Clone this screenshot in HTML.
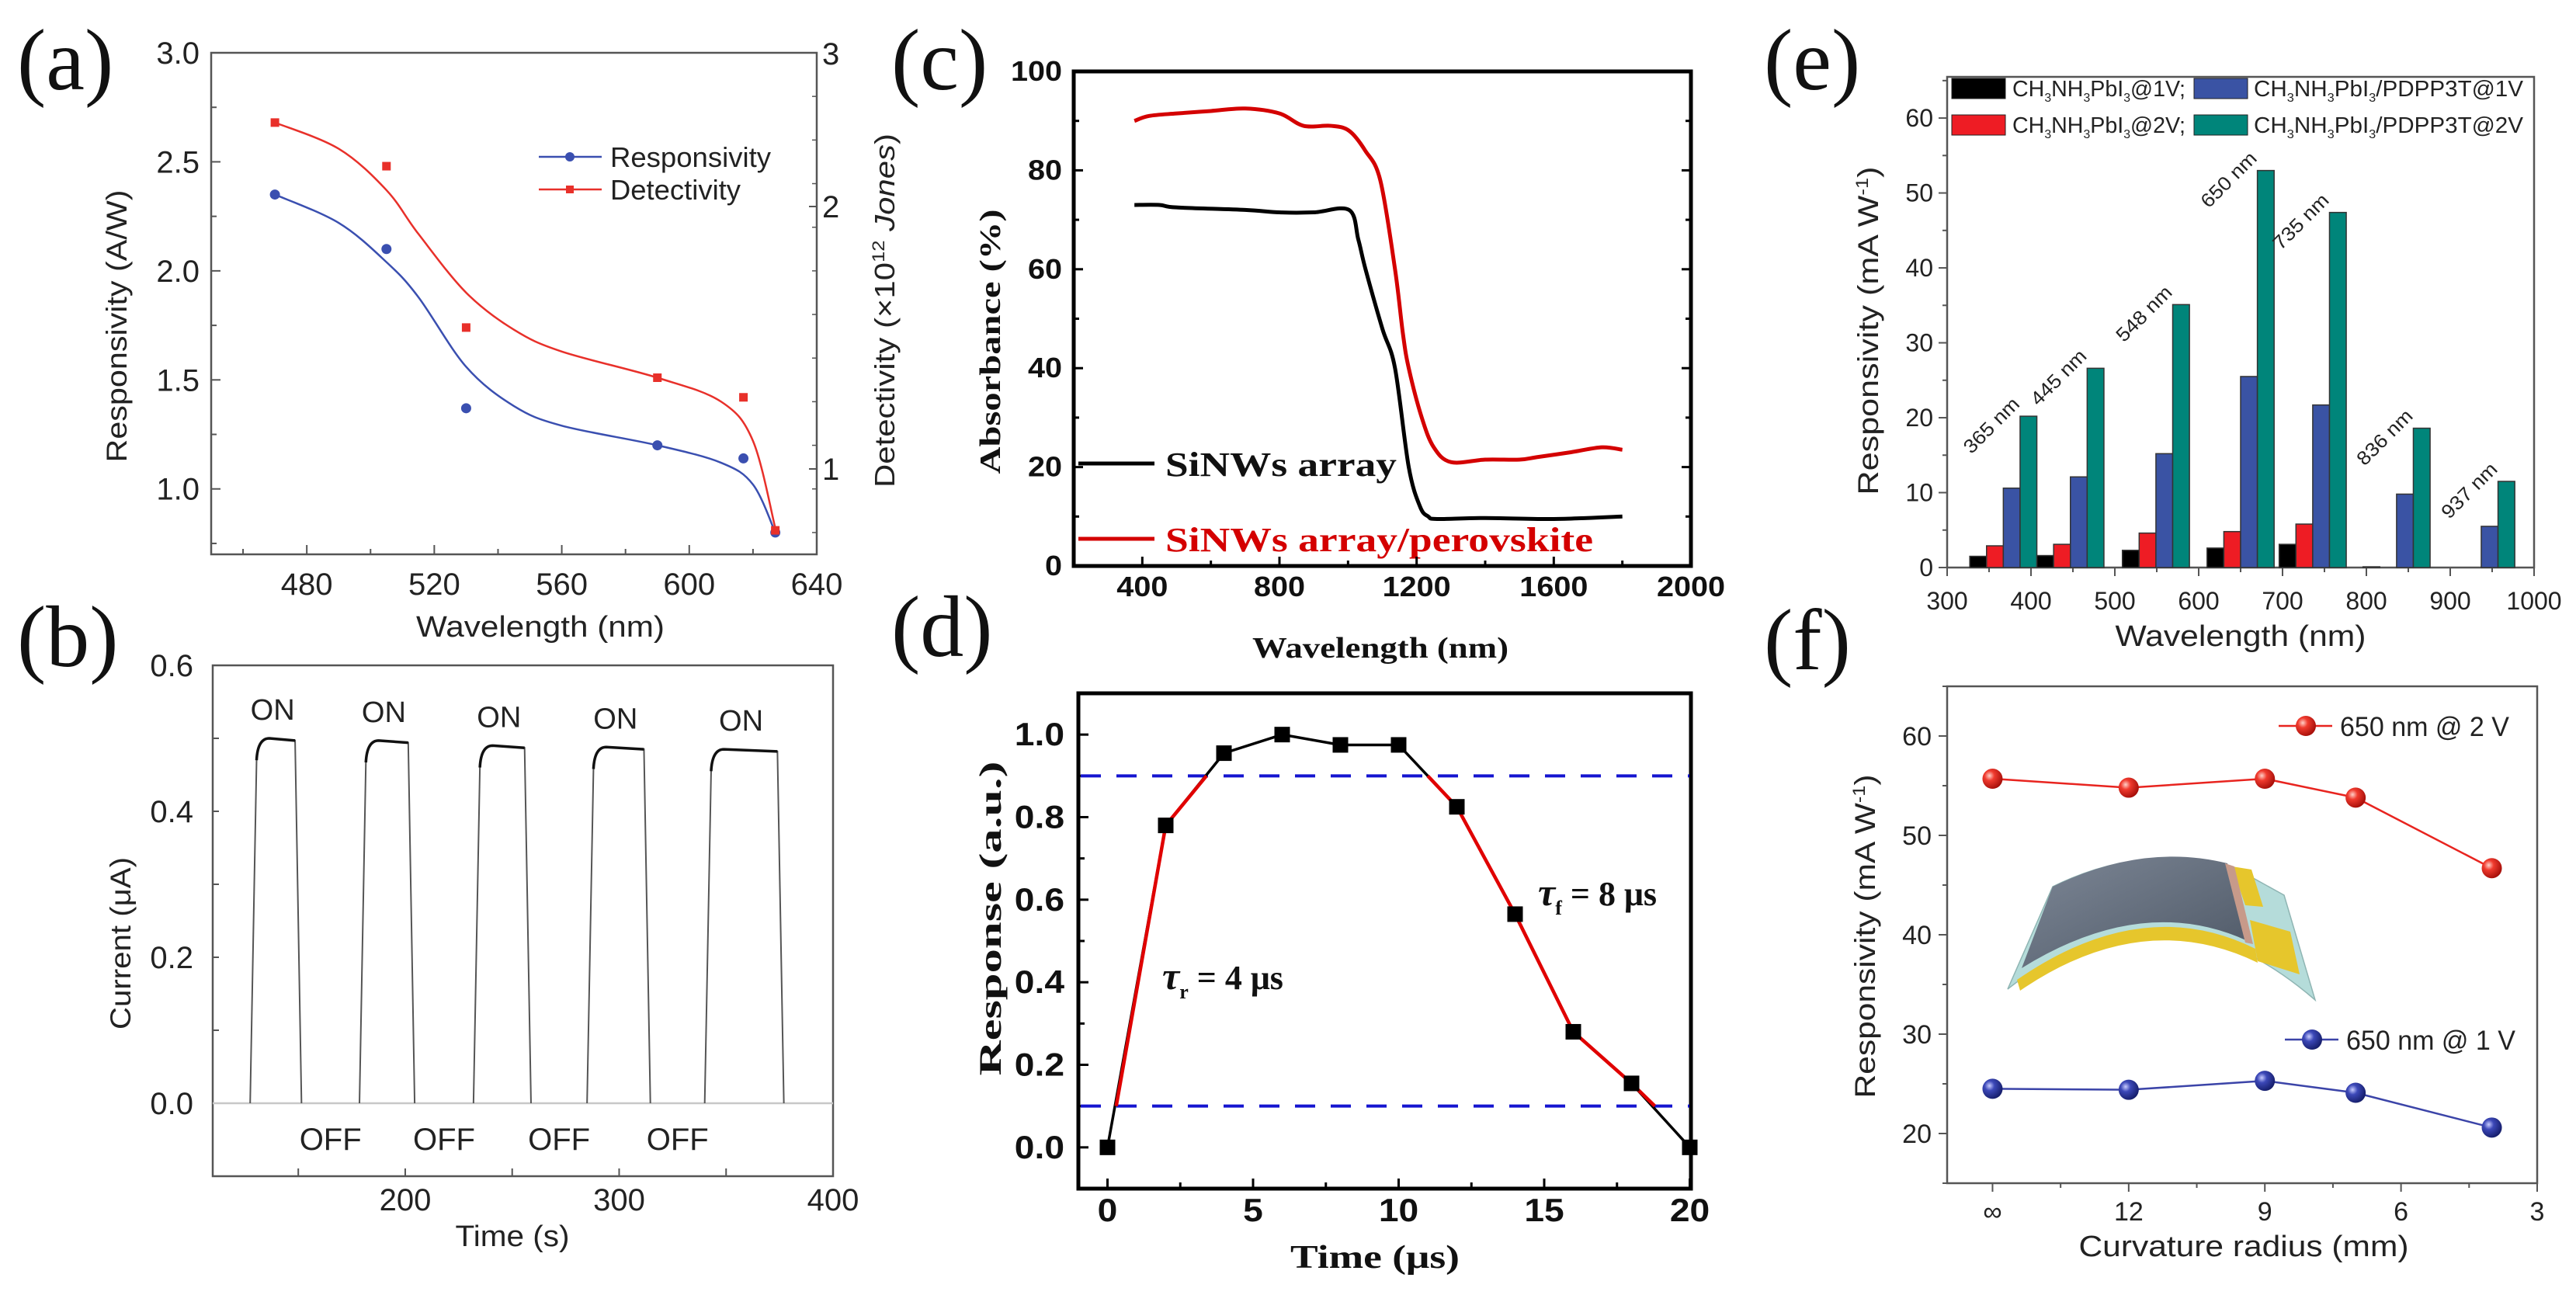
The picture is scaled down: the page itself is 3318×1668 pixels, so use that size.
<!DOCTYPE html>
<html><head><meta charset="utf-8"><style>
html,body{margin:0;padding:0;background:#fff;}
svg{display:block;}
text{font-family:"Liberation Sans",sans-serif;}
.serif{font-family:"Liberation Serif",serif;}
</style></head>
<body>
<svg id="fig" width="3318" height="1668" viewBox="0 0 3318 1668">
<defs>
<radialGradient id="ballRed" cx="0.35" cy="0.35" r="0.7"><stop offset="0" stop-color="#ffd0c8"/><stop offset="0.35" stop-color="#f03a2e"/><stop offset="1" stop-color="#a30d08"/></radialGradient>
<radialGradient id="ballBlue" cx="0.35" cy="0.35" r="0.7"><stop offset="0" stop-color="#c8ccff"/><stop offset="0.35" stop-color="#3c48b8"/><stop offset="1" stop-color="#141c68"/></radialGradient>
<linearGradient id="devTop" x1="0" y1="0" x2="1" y2="1"><stop offset="0" stop-color="#7d8796"/><stop offset="1" stop-color="#4e5866"/></linearGradient>
</defs>
<rect x="0" y="0" width="3318" height="1668" fill="#fff"/>

<!-- panel labels -->
<text class="serif" x="22" y="115" font-size="112" fill="#111">(a)</text>
<text class="serif" x="22" y="858" font-size="112" fill="#111">(b)</text>
<text class="serif" x="1148" y="115" font-size="112" fill="#111">(c)</text>
<text class="serif" x="1148" y="845" font-size="112" fill="#111">(d)</text>
<text class="serif" x="2272" y="115" font-size="112" fill="#111">(e)</text>
<text class="serif" x="2272" y="862" font-size="112" fill="#111">(f)</text>

<!-- panel a static -->
<g id="pa">
<rect x="272" y="68" width="780" height="646" fill="none" stroke="#555" stroke-width="2.5"/>
<text transform="translate(163,420) rotate(-90)" text-anchor="middle" font-size="37" fill="#222" textLength="351" lengthAdjust="spacingAndGlyphs">Responsivity (A/W)</text>
<text x="696" y="820" text-anchor="middle" font-size="38" fill="#222" textLength="320" lengthAdjust="spacingAndGlyphs">Wavelength (nm)</text>
<text transform="translate(1152,400) rotate(-90)" text-anchor="middle" font-size="36" fill="#222" textLength="456" lengthAdjust="spacingAndGlyphs">Detectivity (×10<tspan font-size="22" dy="-13">12</tspan><tspan dy="13" font-style="italic"> Jones</tspan>)</text>
<text x="1059" y="83" font-size="40" fill="#222">3</text>
<text x="1059" y="280" font-size="40" fill="#222">2</text>
<text x="1059" y="618" font-size="40" fill="#222">1</text>
<line x1="1052" y1="266" x2="1042" y2="266" stroke="#555" stroke-width="2"/>
<line x1="1052" y1="604" x2="1042" y2="604" stroke="#555" stroke-width="2"/>
<g>
<line x1="694" y1="202" x2="775" y2="202" stroke="#3a4fb0" stroke-width="2.5"/>
<circle cx="734" cy="202" r="6" fill="#3a4fb0"/>
<text x="786" y="215" font-size="36" fill="#222" textLength="207" lengthAdjust="spacingAndGlyphs">Responsivity</text>
<line x1="694" y1="244" x2="775" y2="244" stroke="#e8302a" stroke-width="2.5"/>
<rect x="729" y="239" width="10" height="10" fill="#e8302a"/>
<text x="786" y="257" font-size="36" fill="#222" textLength="168" lengthAdjust="spacingAndGlyphs">Detectivity</text>
</g>
</g>

<!-- panel b static -->
<g id="pb">
<rect x="274" y="857" width="799" height="658" fill="none" stroke="#555" stroke-width="2.5"/>
<text transform="translate(168,1215) rotate(-90)" text-anchor="middle" font-size="37" fill="#222" textLength="222" lengthAdjust="spacingAndGlyphs">Current (μA)</text>
<text x="660" y="1605" text-anchor="middle" font-size="38" fill="#222" textLength="147" lengthAdjust="spacingAndGlyphs">Time (s)</text>
</g>

<!-- panel c static -->
<g id="pc">
<rect x="1383" y="92" width="795" height="637" fill="none" stroke="#000" stroke-width="5"/>
<text class="serif" transform="translate(1288,440) rotate(-90)" text-anchor="middle" font-size="38" font-weight="bold" fill="#111" textLength="341" lengthAdjust="spacingAndGlyphs">Absorbance (%)</text>
<text class="serif" x="1778" y="847" text-anchor="middle" font-size="38" font-weight="bold" fill="#111" textLength="330" lengthAdjust="spacingAndGlyphs">Wavelength (nm)</text>
<g>
<line x1="1389" y1="597" x2="1487" y2="597" stroke="#000" stroke-width="5"/>
<text class="serif" x="1501" y="613" font-size="44" font-weight="bold" fill="#111" textLength="298" lengthAdjust="spacingAndGlyphs">SiNWs array</text>
<line x1="1389" y1="694" x2="1487" y2="694" stroke="#d40000" stroke-width="5"/>
<text class="serif" x="1501" y="710" font-size="44" font-weight="bold" fill="#d40000" textLength="551" lengthAdjust="spacingAndGlyphs">SiNWs array/perovskite</text>
</g>
</g>

<!-- panel d static -->
<g id="pd">
<rect x="1389" y="893" width="789" height="638" fill="none" stroke="#000" stroke-width="5"/>
<text class="serif" transform="translate(1289,1183) rotate(-90)" text-anchor="middle" font-size="40" font-weight="bold" fill="#111" textLength="405" lengthAdjust="spacingAndGlyphs">Response (a.u.)</text>
<text class="serif" x="1771" y="1633" text-anchor="middle" font-size="42" font-weight="bold" fill="#111" textLength="218" lengthAdjust="spacingAndGlyphs">Time (μs)</text>
<text class="serif" x="1497" y="1274" font-size="44" font-weight="bold" fill="#111"><tspan font-style="italic" font-size="50">τ</tspan><tspan font-size="26" dy="12">r</tspan><tspan dy="-12"> = 4 μs</tspan></text>
<text class="serif" x="1981" y="1166" font-size="44" font-weight="bold" fill="#111"><tspan font-style="italic" font-size="50">τ</tspan><tspan font-size="26" dy="12">f</tspan><tspan dy="-12"> = 8 μs</tspan></text>
</g>

<!-- panel e static -->
<g id="pe">
<rect x="2508" y="99" width="756" height="632" fill="none" stroke="#555" stroke-width="2.5"/>
<text transform="translate(2419,426) rotate(-90)" text-anchor="middle" font-size="37" fill="#222" textLength="423" lengthAdjust="spacingAndGlyphs">Responsivity (mA W<tspan font-size="22" dy="-13">-1</tspan><tspan dy="13">)</tspan></text>
<text x="2886" y="832" text-anchor="middle" font-size="38" fill="#222" textLength="323" lengthAdjust="spacingAndGlyphs">Wavelength (nm)</text>
<g>
<rect x="2514" y="101" width="69" height="26" fill="#000" stroke="#222"/>
<text x="2592" y="124" font-size="29" fill="#222" textLength="223" lengthAdjust="spacingAndGlyphs">CH<tspan font-size="16" dy="7">3</tspan><tspan dy="-7">NH</tspan><tspan font-size="16" dy="7">3</tspan><tspan dy="-7">PbI</tspan><tspan font-size="16" dy="7">3</tspan><tspan dy="-7">@1V;</tspan></text>
<rect x="2826" y="101" width="69" height="26" fill="#3a53a4" stroke="#222"/>
<text x="2903" y="124" font-size="29" fill="#222" textLength="347" lengthAdjust="spacingAndGlyphs">CH<tspan font-size="16" dy="7">3</tspan><tspan dy="-7">NH</tspan><tspan font-size="16" dy="7">3</tspan><tspan dy="-7">PbI</tspan><tspan font-size="16" dy="7">3</tspan><tspan dy="-7">/PDPP3T@1V</tspan></text>
<rect x="2514" y="148" width="69" height="26" fill="#ee1c24" stroke="#222"/>
<text x="2592" y="171" font-size="29" fill="#222" textLength="223" lengthAdjust="spacingAndGlyphs">CH<tspan font-size="16" dy="7">3</tspan><tspan dy="-7">NH</tspan><tspan font-size="16" dy="7">3</tspan><tspan dy="-7">PbI</tspan><tspan font-size="16" dy="7">3</tspan><tspan dy="-7">@2V;</tspan></text>
<rect x="2826" y="148" width="69" height="26" fill="#00857a" stroke="#222"/>
<text x="2903" y="171" font-size="29" fill="#222" textLength="347" lengthAdjust="spacingAndGlyphs">CH<tspan font-size="16" dy="7">3</tspan><tspan dy="-7">NH</tspan><tspan font-size="16" dy="7">3</tspan><tspan dy="-7">PbI</tspan><tspan font-size="16" dy="7">3</tspan><tspan dy="-7">/PDPP3T@2V</tspan></text>
</g>
</g>

<!-- panel f static -->
<g id="pf">
<rect x="2508" y="884" width="760" height="640" fill="none" stroke="#555" stroke-width="2.5"/>
<text transform="translate(2415,1206) rotate(-90)" text-anchor="middle" font-size="37" fill="#222" textLength="417" lengthAdjust="spacingAndGlyphs">Responsivity (mA W<tspan font-size="22" dy="-13">-1</tspan><tspan dy="13">)</tspan></text>
<text x="2890" y="1618" text-anchor="middle" font-size="38" fill="#222" textLength="425" lengthAdjust="spacingAndGlyphs">Curvature radius (mm)</text>
<g>
<path d="M2586,1274 L2644,1142 Q2760,1085 2877,1117 L2942,1153 L2982,1288 Q2784,1117 2586,1274 Z" fill="#b5dcda" stroke="#8fb5b3" stroke-width="1.5"/>
<path d="M2598,1262 Q2760,1150 2905,1222 L2908,1240 Q2760,1168 2602,1276 Z" fill="#e6c62c"/>
<path d="M2604,1247 L2644,1142 Q2760,1085 2869,1112 L2895,1212 Q2760,1150 2604,1247 Z" fill="url(#devTop)"/>
<path d="M2875,1116 L2900,1120 L2915,1168 L2892,1166 Z" fill="#e6c62c"/>
<path d="M2898,1185 L2950,1200 L2962,1255 L2908,1238 Z" fill="#e6c62c"/>
<path d="M2866,1112 L2878,1116 L2902,1216 L2892,1214 Z" fill="#c79a8a"/>
</g>
<g>
<line x1="2935" y1="935" x2="3004" y2="935" stroke="#e8241f" stroke-width="2.5"/>
<circle cx="2970" cy="935" r="13" fill="url(#ballRed)"/>
<text x="3014" y="948" font-size="35" fill="#222" textLength="218" lengthAdjust="spacingAndGlyphs">650 nm @ 2 V</text>
<line x1="2943" y1="1339" x2="3012" y2="1339" stroke="#3b44a8" stroke-width="2.5"/>
<circle cx="2978" cy="1339" r="13" fill="url(#ballBlue)"/>
<text x="3022" y="1352" font-size="35" fill="#222" textLength="218" lengthAdjust="spacingAndGlyphs">650 nm @ 1 V</text>
</g>
</g>
</svg>

<script>
// ---------- data (a) ----------
const aWl = [470, 505, 530, 590, 617, 627];
const aResp = [2.35, 2.10, 1.37, 1.20, 1.14, 0.80];
const aDet = [2.68, 2.48, 1.74, 1.51, 1.42, 0.81];
const aFitWl = [470, 490, 505, 515, 530, 545, 560, 590, 610, 620, 627];
const aRespFit = [2.35, 2.22, 2.04, 1.88, 1.56, 1.38, 1.29, 1.20, 1.12, 1.02, 0.80];
const aDetFit = [2.68, 2.56, 2.37, 2.17, 1.90, 1.73, 1.63, 1.51, 1.40, 1.22, 0.82];
const aXTicks = [480, 520, 560, 600, 640];
const aYTicks = [1.0, 1.5, 2.0, 2.5, 3.0];
// ---------- data (b) ----------
const bOn = [127.5, 178.6, 231.9, 285, 340];
const bOff = [148.5, 201.4, 255.8, 311.6, 374];
const bPeak = [0.50, 0.497, 0.49, 0.488, 0.485];
const bOnLabels = ['ON', 'ON', 'ON', 'ON', 'ON'];
const bOffLabels = ['OFF', 'OFF', 'OFF', 'OFF'];
const bXTicks = [200, 300, 400];
const bYTicks = [0.0, 0.2, 0.4, 0.6];
// ---------- data (c) ----------
const cRedWl = [377, 420, 500, 600, 700, 800, 870, 950, 1003, 1050, 1094, 1137, 1160, 1177, 1215, 1250, 1300, 1400, 1500, 1550, 1650, 1740, 1800];
const cRedAbs = [90, 91, 91.5, 92, 92.5, 91.5, 89, 89, 88, 84, 78, 60, 47, 40, 30, 24, 21, 21.5, 21.5, 22, 23, 24, 23.5];
const cBlkWl = [377, 450, 500, 700, 800, 900, 1003, 1030, 1051, 1100, 1137, 1177, 1210, 1234, 1260, 1400, 1600, 1800];
const cBlkAbs = [73, 73, 72.5, 72, 71.5, 71.5, 72, 66, 60, 48, 40, 20, 12, 10, 9.5, 9.7, 9.5, 10];
const cXTicks = [400, 800, 1200, 1600, 2000];
const cYTicks = [0, 20, 40, 60, 80, 100];
// ---------- data (d) ----------
const dT = [0, 2, 4, 6, 8, 10, 12, 14, 16, 18, 20];
const dR = [0.0, 0.78, 0.955, 1.0, 0.975, 0.975, 0.825, 0.565, 0.28, 0.155, 0.0];
const dRiseT = [0.3, 2, 3.4];
const dRiseR = [0.1, 0.78, 0.9];
const dFallT = [11, 12, 14, 16, 18, 18.8];
const dFallR = [0.9, 0.825, 0.565, 0.28, 0.155, 0.1];
const dLevels = [0.9, 0.1];
const dXTicks = [0, 5, 10, 15, 20];
const dYTicks = [0.0, 0.2, 0.4, 0.6, 0.8, 1.0];
// ---------- data (e) ----------
const eCenters = [367, 447, 549, 650, 736, 836, 937];
const eLabels = ['365 nm', '445 nm', '548 nm', '650 nm', '735 nm', '836 nm', '937 nm'];
const ePbI1V = [1.5, 1.6, 2.3, 2.6, 3.1, 0.1, 0];
const ePbI2V = [2.9, 3.1, 4.6, 4.8, 5.8, 0, 0];
const eP3T1V = [10.6, 12.1, 15.2, 25.5, 21.7, 9.8, 5.5];
const eP3T2V = [20.2, 26.6, 35.1, 53.0, 47.4, 18.6, 11.5];
const eXTicks = [300, 400, 500, 600, 700, 800, 900, 1000];
const eYTicks = [0, 10, 20, 30, 40, 50, 60];
// ---------- data (f) ----------
const fX = [15, 12, 9, 7, 4];
const f2V = [55.7, 54.8, 55.7, 53.8, 46.7];
const f1V = [24.5, 24.4, 25.3, 24.1, 20.6];
const fXTickVals = [15, 12, 9, 6, 3];
const fXTickLabels = ['∞', '12', '9', '6', '3'];
const fYTicks = [20, 30, 40, 50, 60];

const svg = document.getElementById('fig');
const NS = svg.namespaceURI;
function mk(p, tag, attrs, txt) {
  const el = document.createElementNS(NS, tag);
  for (const k in attrs) el.setAttribute(k, attrs[k]);
  if (txt !== undefined) el.textContent = txt;
  p.appendChild(el);
  return el;
}
function lin(d0, d1, r0, r1) { return v => r0 + (v - d0) * (r1 - r0) / (d1 - d0); }
function label(p, x, y, s, size, anchor, sx, fam, weight, fill) {
  const g = mk(p, 'g', {transform: `translate(${x},${y}) scale(${sx},1)`});
  const t = mk(g, 'text', {x: 0, y: 0, 'font-size': size, 'text-anchor': anchor, fill: fill || '#222', 'font-weight': weight || 'normal', 'font-family': fam || '"Liberation Sans", sans-serif'}, s);
  return t;
}
function smoothPath(pts) {
  let d = `M${pts[0][0]},${pts[0][1]}`;
  for (let i = 0; i < pts.length - 1; i++) {
    const p0 = pts[Math.max(i - 1, 0)], p1 = pts[i], p2 = pts[i + 1], p3 = pts[Math.min(i + 2, pts.length - 1)];
    const c1 = [p1[0] + (p2[0] - p0[0]) / 6, p1[1] + (p2[1] - p0[1]) / 6];
    const c2 = [p2[0] - (p3[0] - p1[0]) / 6, p2[1] - (p3[1] - p1[1]) / 6];
    d += ` C${c1[0]},${c1[1]} ${c2[0]},${c2[1]} ${p2[0]},${p2[1]}`;
  }
  return d;
}
function linePath(xs, ys, sx, sy) { return xs.map((x, i) => (i ? 'L' : 'M') + sx(x) + ',' + sy(ys[i])).join(' '); }
const SERIF = '"Liberation Serif", serif';

// ================= PANEL A =================
(function () {
  const p = document.getElementById('pa');
  const x = lin(450, 640, 272, 1052), y = lin(0.7, 3.0, 714, 68);
  for (let v = 0.75; v <= 3.0; v += 0.25) {
    const major = Math.abs(v * 2 - Math.round(v * 2)) < 1e-6;
    const t = mk(p, 'line', {x1: 272, x2: 272 + (major ? 12 : 7), y1: y(v), y2: y(v), stroke: '#555', 'stroke-width': 2});
    
    
  }
  for (let v = 460; v <= 640; v += 20) {
    const major = v % 40 === 0;
    const t = mk(p, 'line', {x1: x(v), x2: x(v), y1: 714, y2: 714 - (major ? 12 : 7), stroke: '#555', 'stroke-width': 2});
    
    
  }
  for (let v = 0.8; v <= 3.0; v += 0.2) {
    const t = mk(p, 'line', {x1: 1052, x2: 1046, y1: y(v), y2: y(v), stroke: '#555', 'stroke-width': 1.5});
    
    
  }
  aYTicks.forEach(v => {
    const t = label(p, 257, y(v) + 14, v.toFixed(1), 40, 'end', 1);
    
    
  });
  aXTicks.forEach(v => {
    const t = label(p, x(v), 766, String(v), 40, 'middle', 1);
    
    
  });
  const rFit = mk(p, 'path', {d: smoothPath(aFitWl.map((w, i) => [x(w), y(aRespFit[i])])), fill: 'none', stroke: '#3a4fb0', 'stroke-width': 2.5});
  
  
  const dFit = mk(p, 'path', {d: smoothPath(aFitWl.map((w, i) => [x(w), y(aDetFit[i])])), fill: 'none', stroke: '#e8302a', 'stroke-width': 2.5});
  
  
  aWl.forEach((w, i) => {
    const c = mk(p, 'circle', {cx: x(w), cy: y(aResp[i]), r: 6.5, fill: '#3a4fb0'});
    
    
    const s = mk(p, 'rect', {x: x(w) - 5.5, y: y(aDet[i]) - 5.5, width: 11, height: 11, fill: '#e8302a'});
    
    
  });
})();

// ================= PANEL B =================
(function () {
  const p = document.getElementById('pb');
  const x = lin(110, 400, 274, 1073), y = lin(-0.1, 0.6, 1515, 857);
  for (let v = 0; v <= 0.6001; v += 0.1) {
    const t = mk(p, 'line', {x1: 274, x2: 274 + 8, y1: y(v), y2: y(v), stroke: '#555', 'stroke-width': 2});
    
    
  }
  for (let v = 150; v <= 400; v += 50) {
    const t = mk(p, 'line', {x1: x(v), x2: x(v), y1: 1515, y2: 1505, stroke: '#555', 'stroke-width': 2});
    
    
  }
  bYTicks.forEach(v => {
    const t = label(p, 249, y(v) + 14, v.toFixed(1), 40, 'end', 1);
    
    
  });
  bXTicks.forEach(v => {
    const t = label(p, x(v), 1559, String(v), 40, 'middle', 1);
    
    
  });
  const base = mk(p, 'line', {x1: x(110), x2: x(400), y1: y(0), y2: y(0), stroke: '#c8c8c8', 'stroke-width': 2.5});
  
  
  bOn.forEach((t0, i) => {
    const pk = bPeak[i], t1 = bOff[i];
    const d = `M${x(t0)},${y(0)} L${x(t0 + 3)},${y(pk - 0.03)} Q${x(t0 + 3.5)},${y(pk)} ${x(t0 + 9)},${y(pk)} L${x(t1)},${y(pk - 0.003)} L${x(t1 + 3)},${y(0)}`;
    const el = mk(p, 'path', {d: d, fill: 'none', stroke: '#555', 'stroke-width': 2});
    
    
    const side = mk(p, 'path', {d: `M${x(t0 + 3)},${y(pk - 0.03)} Q${x(t0 + 3.5)},${y(pk)} ${x(t0 + 9)},${y(pk)} L${x(t1)},${y(pk - 0.003)}`, fill: 'none', stroke: '#111', 'stroke-width': 3.5});
    
    
    const on = label(p, x((t0 + t1) / 2), y(pk) - 24, bOnLabels[i], 38, 'middle', 1);
    
    
  });
  bOffLabels.forEach((s, i) => {
    const t = label(p, x((bOff[i] + bOn[i + 1]) / 2 + 1.5), 1481, s, 40, 'middle', 1);
    
    
  });
})();

// ================= PANEL C =================
(function () {
  const p = document.getElementById('pc');
  const x = lin(200, 2000, 1383, 2178), y = lin(0, 100, 729, 92);
  for (let v = 400; v <= 2000; v += 200) {
    const major = v % 400 === 0;
    const t = mk(p, 'line', {x1: x(v), x2: x(v), y1: 729, y2: 729 - (major ? 12 : 7), stroke: '#000', 'stroke-width': 3});
    
    
  }
  for (let v = 10; v < 100; v += 10) {
    const major = v % 20 === 0;
    const t = mk(p, 'line', {x1: 1383, x2: 1383 + (major ? 12 : 7), y1: y(v), y2: y(v), stroke: '#000', 'stroke-width': 3});
    
    
    const t2 = mk(p, 'line', {x1: 2178, x2: 2178 - (major ? 12 : 7), y1: y(v), y2: y(v), stroke: '#000', 'stroke-width': 3});
    
    
  }
  cYTicks.forEach(v => {
    const t = label(p, 1368, y(v) + 12, String(v), 36, 'end', 1.1, SERIF, 'bold', '#111');
    
    
  });
  cXTicks.forEach(v => {
    const t = label(p, x(v), 768, String(v), 36, 'middle', 1.1, SERIF, 'bold', '#111');
    
    
  });
  const r = mk(p, 'path', {d: smoothPath(cRedWl.map((w, i) => [x(w), y(cRedAbs[i])])), fill: 'none', stroke: '#d40000', 'stroke-width': 5});
  
  
  const b = mk(p, 'path', {d: smoothPath(cBlkWl.map((w, i) => [x(w), y(cBlkAbs[i])])), fill: 'none', stroke: '#000', 'stroke-width': 5});
  
  
})();

// ================= PANEL D =================
(function () {
  const p = document.getElementById('pd');
  const x = lin(-1, 20.04, 1389, 2178), y = lin(-0.1, 1.1, 1531, 893);
  for (let v = 0; v <= 20; v += 2.5) {
    const major = v % 5 === 0;
    const t = mk(p, 'line', {x1: x(v), x2: x(v), y1: 1531, y2: 1531 - (major ? 13 : 8), stroke: '#000', 'stroke-width': 3});
    
    
  }
  for (let v = 0; v <= 1.0001; v += 0.1) {
    const major = Math.round(v * 10) % 2 === 0;
    const t = mk(p, 'line', {x1: 1389, x2: 1389 + (major ? 13 : 8), y1: y(v), y2: y(v), stroke: '#000', 'stroke-width': 3});
    
    
  }
  dYTicks.forEach(v => {
    const t = label(p, 1371, y(v) + 14, v.toFixed(1), 42, 'end', 1.1, SERIF, 'bold', '#111');
    
    
  });
  dXTicks.forEach(v => {
    const t = label(p, x(v), 1573, String(v), 42, 'middle', 1.1, SERIF, 'bold', '#111');
    
    
  });
  dLevels.forEach(v => {
    const l = mk(p, 'line', {x1: 1392, x2: 2176, y1: y(v), y2: y(v), stroke: '#1515d0', 'stroke-width': 4, 'stroke-dasharray': '26 20'});
    
    
  });
  const bl = mk(p, 'path', {d: linePath(dT, dR, x, y), fill: 'none', stroke: '#000', 'stroke-width': 3.5});
  
  
  const rr = mk(p, 'path', {d: linePath(dRiseT, dRiseR, x, y), fill: 'none', stroke: '#e00000', 'stroke-width': 4.5});
  
  
  const rf = mk(p, 'path', {d: linePath(dFallT, dFallR, x, y), fill: 'none', stroke: '#e00000', 'stroke-width': 4.5});
  
  
  dT.forEach((t, i) => {
    const m = mk(p, 'rect', {x: x(t) - 10, y: y(dR[i]) - 10, width: 20, height: 20, fill: '#000'});
    
    
  });
})();

// ================= PANEL E =================
(function () {
  const p = document.getElementById('pe');
  const x = lin(300, 1000, 2508, 3264), y = lin(0, 65.5, 731, 99);
  for (let v = 300; v <= 1000; v += 50) {
    const major = v % 100 === 0;
    const t = mk(p, 'line', {x1: x(v), x2: x(v), y1: 731, y2: 731 + (major ? 11 : 6), stroke: '#555', 'stroke-width': 2});
    
    
  }
  for (let v = 0; v <= 65; v += 5) {
    const major = v % 10 === 0;
    const t = mk(p, 'line', {x1: 2508, x2: 2508 - (major ? 11 : 6), y1: y(v), y2: y(v), stroke: '#555', 'stroke-width': 2});
    
    
  }
  eYTicks.forEach(v => {
    const t = label(p, 2490, y(v) + 11, String(v), 32, 'end', 1);
    
    
  });
  eXTicks.forEach(v => {
    const t = label(p, x(v), 785, String(v), 32, 'middle', 1);
    
    
  });
  const series = [ePbI1V, ePbI2V, eP3T1V, eP3T2V];
  const colors = ['#000000', '#ee1c24', '#3a53a4', '#00857a'];
  const names = ['bar-pbi3-1v', 'bar-pbi3-2v', 'bar-pdpp3t-1v', 'bar-pdpp3t-2v'];
  eCenters.forEach((c, gi) => {
    series.forEach((s, k) => {
      const v = s[gi];
      if (v <= 0) return;
      const x0 = x(c - 40 + k * 20), x1 = x(c - 20 + k * 20);
      const b = mk(p, 'rect', {x: x0, y: y(v), width: x1 - x0, height: y(0) - y(v), fill: colors[k], stroke: '#333', 'stroke-width': 1.5});
      
      
    });
    const top = Math.max(eP3T1V[gi], eP3T2V[gi]);
    const lx = x(c - 14), ly = y(top) + 12;
    const g = mk(p, 'g', {transform: `translate(${lx},${ly}) rotate(-45)`});
    const t = mk(g, 'text', {x: 0, y: 8, 'font-size': 25, 'text-anchor': 'middle', fill: '#222', textLength: 90, lengthAdjust: 'spacingAndGlyphs'}, eLabels[gi]);
    
    
  });
})();

// ================= PANEL F =================
(function () {
  const p = document.getElementById('pf');
  const x = lin(16, 3, 2508, 3268), y = lin(15, 65, 1524, 884);
  for (let v = 15; v >= 3; v -= 1.5) {
    const major = Math.abs(v % 3) < 1e-6;
    const t = mk(p, 'line', {x1: x(v), x2: x(v), y1: 1524, y2: 1524 + (major ? 11 : 6), stroke: '#555', 'stroke-width': 2});
    
    
  }
  for (let v = 15; v <= 65; v += 5) {
    const major = v % 10 === 0;
    const t = mk(p, 'line', {x1: 2508, x2: 2508 - (major ? 11 : 6), y1: y(v), y2: y(v), stroke: '#555', 'stroke-width': 2});
    
    
  }
  fYTicks.forEach(v => {
    const t = label(p, 2488, y(v) + 12, String(v), 34, 'end', 1);
    
    
  });
  fXTickVals.forEach((v, i) => {
    const t = label(p, x(v), 1572, fXTickLabels[i], 34, 'middle', 1);
    
    
  });
  const rl = mk(p, 'path', {d: linePath(fX, f2V, x, y), fill: 'none', stroke: '#e8241f', 'stroke-width': 2.5});
  
  
  const bl = mk(p, 'path', {d: linePath(fX, f1V, x, y), fill: 'none', stroke: '#3b44a8', 'stroke-width': 2.5});
  
  
  fX.forEach((v, i) => {
    const a = mk(p, 'circle', {cx: x(v), cy: y(f2V[i]), r: 13, fill: 'url(#ballRed)'});
    
    
    const b = mk(p, 'circle', {cx: x(v), cy: y(f1V[i]), r: 13, fill: 'url(#ballBlue)'});
    
    
  });
})();
</script>
</body></html>
